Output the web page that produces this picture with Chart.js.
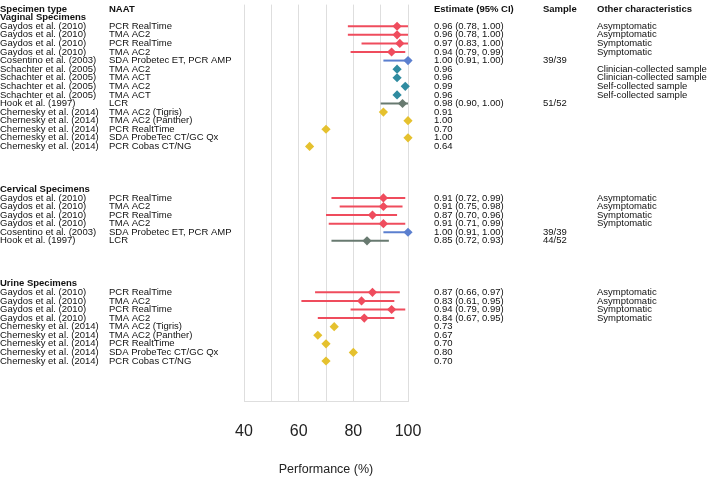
<!DOCTYPE html>
<html>
<head>
<meta charset="utf-8">
<script src="https://cdn.jsdelivr.net/npm/chart.js@4.4.1/dist/chart.umd.min.js"></script>
<style>
  html, body { margin: 0; padding: 0; background: #fff; }
  #wrap { width: 708px; height: 477px; position: relative; }
</style>
</head>
<body>
<div id="wrap"><canvas id="forest"></canvas></div>
<script>
// sections and rows of the forest plot
const sections = ['Vaginal Specimens', 'Cervical Specimens', 'Urine Specimens'];
const sectionOf = [0,0,0,0,0,0,0,0,0,0,0,0,0,0,0, 1,1,1,1,1,1, 2,2,2,2,2,2,2,2,2];
const studies = [
  'Gaydos et al. (2010)', 'Gaydos et al. (2010)', 'Gaydos et al. (2010)', 'Gaydos et al. (2010)',
  'Cosentino et al. (2003)',
  'Schachter et al. (2005)', 'Schachter et al. (2005)', 'Schachter et al. (2005)', 'Schachter et al. (2005)',
  'Hook et al. (1997)',
  'Chernesky et al. (2014)', 'Chernesky et al. (2014)', 'Chernesky et al. (2014)', 'Chernesky et al. (2014)', 'Chernesky et al. (2014)',
  'Gaydos et al. (2010)', 'Gaydos et al. (2010)', 'Gaydos et al. (2010)', 'Gaydos et al. (2010)',
  'Cosentino et al. (2003)', 'Hook et al. (1997)',
  'Gaydos et al. (2010)', 'Gaydos et al. (2010)', 'Gaydos et al. (2010)', 'Gaydos et al. (2010)',
  'Chernesky et al. (2014)', 'Chernesky et al. (2014)', 'Chernesky et al. (2014)', 'Chernesky et al. (2014)', 'Chernesky et al. (2014)'
];
const naats = [
  'PCR RealTime', 'TMA AC2', 'PCR RealTime', 'TMA AC2',
  'SDA Probetec ET, PCR AMP',
  'TMA AC2', 'TMA ACT', 'TMA AC2', 'TMA ACT',
  'LCR',
  'TMA AC2 (Tigris)', 'TMA AC2 (Panther)', 'PCR RealtTime', 'SDA ProbeTec CT/GC Qx', 'PCR Cobas CT/NG',
  'PCR RealTime', 'TMA AC2', 'PCR RealTime', 'TMA AC2',
  'SDA Probetec ET, PCR AMP', 'LCR',
  'PCR RealTime', 'TMA AC2', 'PCR RealTime', 'TMA AC2',
  'TMA AC2 (Tigris)', 'TMA AC2 (Panther)', 'PCR RealtTime', 'SDA ProbeTec CT/GC Qx', 'PCR Cobas CT/NG'
];
const estimates = [0.96, 0.96, 0.97, 0.94, 1.00, 0.96, 0.96, 0.99, 0.96, 0.98, 0.91, 1.00, 0.70, 1.00, 0.64,
                   0.91, 0.91, 0.87, 0.91, 1.00, 0.85,
                   0.87, 0.83, 0.94, 0.84, 0.73, 0.67, 0.70, 0.80, 0.70];
const lowers = [0.78, 0.78, 0.83, 0.79, 0.91, null, null, null, null, 0.90, null, null, null, null, null,
                0.72, 0.75, 0.70, 0.71, 0.91, 0.72,
                0.66, 0.61, 0.79, 0.67, null, null, null, null, null];
const uppers = [1.00, 1.00, 1.00, 0.99, 1.00, null, null, null, null, 1.00, null, null, null, null, null,
                0.99, 0.98, 0.96, 0.99, 1.00, 0.93,
                0.97, 0.95, 0.99, 0.95, null, null, null, null, null];
const samples = ['', '', '', '', '39/39', '', '', '', '', '51/52', '', '', '', '', '',
                 '', '', '', '', '39/39', '44/52',
                 '', '', '', '', '', '', '', '', ''];
const others = ['Asymptomatic', 'Asymptomatic', 'Symptomatic', 'Symptomatic', '',
                'Clinician-collected sample', 'Clinician-collected sample', 'Self-collected sample', 'Self-collected sample',
                '', '', '', '', '', '',
                'Asymptomatic', 'Asymptomatic', 'Symptomatic', 'Symptomatic', '', '',
                'Asymptomatic', 'Asymptomatic', 'Symptomatic', 'Symptomatic', '', '', '', '', ''];
const headers = ['Specimen type', 'NAAT', 'Estimate (95% CI)', 'Sample', 'Other characteristics'];
const tickValues = [40, 50, 60, 70, 80, 90, 100];
const tickShown = [40, 60, 80, 100];

// colours by study
const colores = {
  'Gaydos': '#ef4c5d',
  'Cosentino': '#5b7fcf',
  'Schachter': '#2f8ba0',
  'Hook': '#687a70',
  'Chernesky': '#e5c12e'
};
const fonte = '"Liberation Sans", Arial, sans-serif';
const colunas = [0, 109, 434, 543, 597];
const GAP = 4;

// row index for every line of the table (0 = column headers)
const filaSecao = [];
const filaDado = [];
let fila = 1;
sections.forEach((s, si) => {
  if (si > 0) fila += GAP;
  filaSecao.push(fila);
  fila++;
  sectionOf.forEach((k, i) => { if (k === si) { filaDado[i] = fila; fila++; } });
});

function autor(i) { return studies[i].split(' ')[0]; }

const datasets = [];
// markers
Object.keys(colores).forEach(a => {
  const pts = [];
  studies.forEach((s, i) => { if (autor(i) === a) pts.push({ x: estimates[i] * 100, y: filaDado[i] }); });
  datasets.push({
    type: 'scatter', data: pts, pointStyle: 'rectRot', pointRadius: 4.6, pointHoverRadius: 4.6,
    backgroundColor: colores[a], borderWidth: 0, order: 1, clip: false
  });
});
// confidence intervals
studies.forEach((s, i) => {
  if (lowers[i] === null) return;
  datasets.push({
    type: 'line',
    data: [{ x: lowers[i] * 100, y: filaDado[i] }, { x: uppers[i] * 100, y: filaDado[i] }],
    borderColor: colores[autor(i)], borderWidth: 2, pointRadius: 0, order: 2, clip: false
  });
});

function fmt(v) { return v.toFixed(2); }

const tabela = {
  id: 'tabela',
  afterDraw(chart) {
    const { ctx, scales: { y } } = chart;
    ctx.save();
    ctx.textBaseline = 'middle';
    ctx.textAlign = 'left';
    ctx.fillStyle = '#111';
    ctx.font = 'bold 9.5px ' + fonte;
    const y0 = y.getPixelForValue(0);
    headers.forEach((h, c) => ctx.fillText(h, colunas[c], y0));
    sections.forEach((s, si) => ctx.fillText(s, colunas[0], y.getPixelForValue(filaSecao[si])));
    ctx.font = '9.5px ' + fonte;
    studies.forEach((s, i) => {
      const py = y.getPixelForValue(filaDado[i]);
      ctx.fillText(s, colunas[0], py);
      ctx.fillText(naats[i], colunas[1], py);
      let est = fmt(estimates[i]);
      if (lowers[i] !== null) est += ' (' + fmt(lowers[i]) + ', ' + fmt(uppers[i]) + ')';
      ctx.fillText(est, colunas[2], py);
      ctx.fillText(samples[i], colunas[3], py);
      ctx.fillText(others[i], colunas[4], py);
    });
    ctx.restore();
  }
};

const ctx = document.getElementById('forest').getContext('2d');
const grafico = new Chart(ctx, {
  type: 'scatter',
  data: { datasets: datasets },
  options: {
    responsive: true,
    maintainAspectRatio: false,
    devicePixelRatio: 1,
    animation: false,
    layout: { padding: { left: 244, right: 300, top: 0, bottom: 0 } },
    plugins: { legend: { display: false }, tooltip: { enabled: false } },
    scales: {
      x: {
        type: 'linear', position: 'bottom', min: 40, max: 100,
        afterBuildTicks: axis => { axis.ticks = tickValues.map(v => ({ value: v })); },
        ticks: {
          autoSkip: false, maxRotation: 0, padding: 20, color: '#222',
          font: { family: fonte, size: 16 },
          callback: v => tickShown.includes(v) ? String(v) : ''
        },
        grid: { color: '#dedede', lineWidth: 1, drawTicks: false },
        border: { display: true, color: '#dedede' },
        title: {
          display: true, text: 'Performance (%)', color: '#222',
          font: { family: fonte, size: 12.5 }, padding: { top: 1, bottom: 0 }
        }
      },
      y: { type: 'linear', reverse: true, min: -0.52, max: 45.75, display: false }
    }
  },
  plugins: [tabela]
});
</script>
</body>
</html>
